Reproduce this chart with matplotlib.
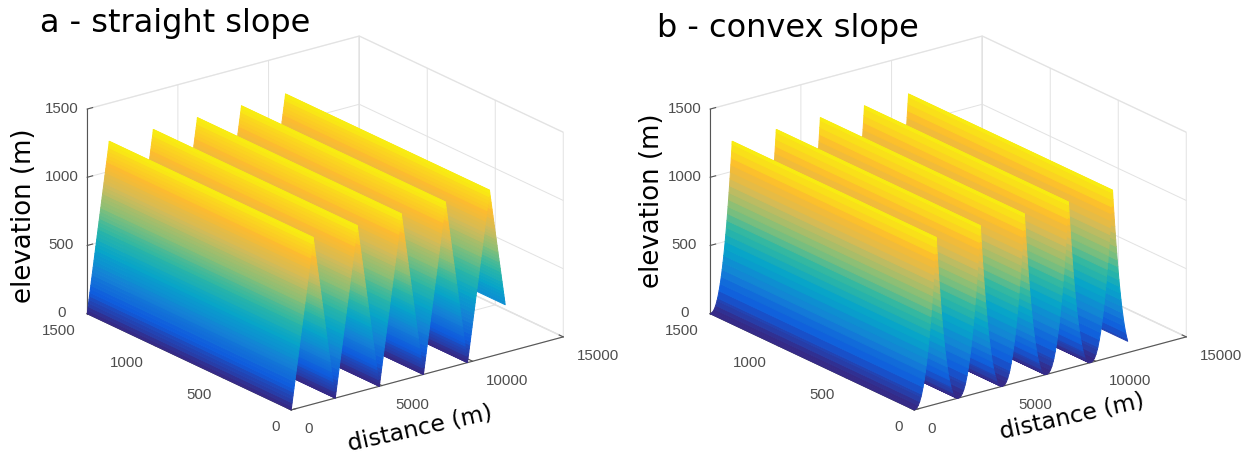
import matplotlib
matplotlib.use('Agg')
import numpy as np
import matplotlib.pyplot as plt
from matplotlib.colors import LinearSegmentedColormap
from matplotlib.transforms import ScaledTranslation

# one flank of a ridge: distance from the valley (m) and elevation (m)
straight_dist = [0, 25, 50, 75, 100, 125, 150, 175, 200, 225, 250, 275, 300, 325, 350, 375, 400, 425, 450, 475,
                 500, 525, 550, 575, 600, 625, 650, 675, 700, 725, 750, 775, 800, 825, 850, 875, 900, 925, 950,
                 975, 1000, 1025, 1050, 1075, 1100, 1125, 1150, 1175, 1200, 1215]
straight_elev = [0, 25, 50, 75, 100, 125, 150, 175, 200, 225, 250, 275, 300, 325, 350, 375, 400, 425, 450, 475,
                 500, 525, 550, 575, 600, 625, 650, 675, 700, 725, 750, 775, 800, 825, 850, 875, 900, 925, 950,
                 975, 1000, 1025, 1050, 1075, 1100, 1125, 1150, 1175, 1200, 1220]
convex_dist = [0, 75, 150, 225, 303, 378, 410, 489, 554, 610, 660, 706, 749, 788, 825, 860, 893, 925,
               955, 984, 1012, 1039, 1065, 1090, 1115, 1139, 1162, 1185, 1207, 1215]
convex_elev = [0, 2, 10, 25, 50, 83, 100, 150, 200, 250, 300, 350, 400, 450, 500, 550, 600, 650,
               700, 750, 800, 850, 900, 950, 1000, 1050, 1100, 1150, 1200, 1220]

valley_x = [0, 2430, 4860, 7290, 9720]   # valley floors
ridge_width = 2430
straight_end_dist = 350   # the last ridge stops part way down
convex_end_dist = 378
y_edges = [0, 1500]

xticks = [0, 5000, 10000, 15000]
yticks = [0, 500, 1000, 1500]
zticks = [0, 500, 1000, 1500]

parula_colors = ['#352a87', '#0f5cdd', '#1481d6', '#06a4ca', '#2eb7a4', '#87bf77', '#d1bb59', '#fdbb2f', '#f8ec12']
parula = LinearSegmentedColormap.from_list('parula', parula_colors, N=64)

W, H = 1248, 457
fig = plt.figure(figsize=(W / 100, H / 100), dpi=100)
fig.patch.set_facecolor('white')


def profile(dist, elev, end_dist):
    xs, zs = [], []
    for v in valley_x:
        for d, e in zip(dist, elev):
            xs.append(v + d)
            zs.append(e)
        for d, e in zip(dist[-2::-1], elev[-2::-1]):
            if v == valley_x[-1] and d < end_dist:
                continue
            xs.append(v + ridge_width - d)
            zs.append(e)
    return xs, zs


def shift_labels(labels, dx, dy):
    # Axis3D resets label transforms to transData on every draw, so block that
    off = ScaledTranslation(dx / 100, dy / 100, fig.dpi_scale_trans)
    for lbl in labels:
        lbl.set_transform(lbl.get_transform() + off)
        lbl.set_transform = lambda t: None


def draw_panel(shift, dist, elev, end_dist):
    S = 512.6
    left = 62 + shift
    bottom = -29.2
    ax = fig.add_axes([left / W, bottom / H, S / W, S / H], projection='3d', proj_type='ortho')
    ax.patch.set_visible(False)
    ax.set_box_aspect((1, 0.994, 0.6426))
    ax.view_init(elev=20.84, azim=-127.03)

    xs, zs = profile(dist, elev, end_dist)
    X, Y = np.meshgrid(xs, y_edges)
    Z = np.array([zs, zs])
    surf = ax.plot_surface(X, Y, Z, rstride=1, cstride=1, cmap=parula, vmin=0, vmax=1220,
                           linewidth=0.7, antialiased=True, shade=False)
    surf.set_edgecolor('face')

    ax.set_xlim(0, 15000, view_margin=0)
    ax.set_ylim(0, 1500, view_margin=0)
    ax.set_zlim(0, 1500, view_margin=0)
    ax.set_xticks(xticks)
    ax.set_yticks(yticks)
    ax.set_zticks(zticks)

    for axis in (ax.xaxis, ax.yaxis, ax.zaxis):
        axis.pane.set_facecolor((1, 1, 1, 0))
        axis.pane.set_edgecolor('#dcdcdc')
        axis.line.set_color('#555555')
        axis.line.set_linewidth(0.8)
        axis._axinfo['grid'].update(color='#e2e2e2', linewidth=0.7)
        axis._axinfo['tick'].update(inward_factor=0, outward_factor=0.25, color='#555555')
        axis._axinfo['tick']['linewidth'] = {True: 0.8, False: 0.5}
    ax.tick_params(labelsize=10.8, labelcolor='#4d4d4d', colors='#555555')
    ax.tick_params(axis='x', pad=0)
    ax.tick_params(axis='y', pad=0)
    ax.tick_params(axis='z', pad=0)
    for lbl in ax.get_xticklabels() + ax.get_yticklabels() + ax.get_zticklabels():
        lbl.set_family('Liberation Sans')
    for lbl in ax.get_xticklabels():
        lbl.set_ha('left')
    for lbl in ax.get_yticklabels():
        lbl.set_ha('right')
    shift_labels(ax.get_xticklabels(), 5, 0)
    shift_labels(ax.get_yticklabels(), 0, 1.5)
    shift_labels(ax.get_zticklabels(), -6, 6.5)
    return ax


ax_a = draw_panel(0, straight_dist, straight_elev, straight_end_dist)
ax_b = draw_panel(623, convex_dist, convex_elev, convex_end_dist)

fig.text(40 / W, 1 - 32 / H, 'a - straight slope', fontsize=23, color='black')
fig.text(657 / W, 1 - 36.5 / H, 'b - convex slope', fontsize=23, color='black')
fig.text(24 / W, 1 - 216 / H, 'elevation (m)', fontsize=18.7, rotation=90, ha='center', va='center')
fig.text(652 / W, 1 - 201 / H, 'elevation (m)', fontsize=18.7, rotation=90, ha='center', va='center')
fig.text(420 / W, 1 - 428 / H, 'distance (m)', fontsize=16.8, rotation=12.5, ha='center', va='center')
fig.text(1072 / W, 1 - 416 / H, 'distance (m)', fontsize=16.8, rotation=12.5, ha='center', va='center')

fig.savefig('out.png', dpi=100)
